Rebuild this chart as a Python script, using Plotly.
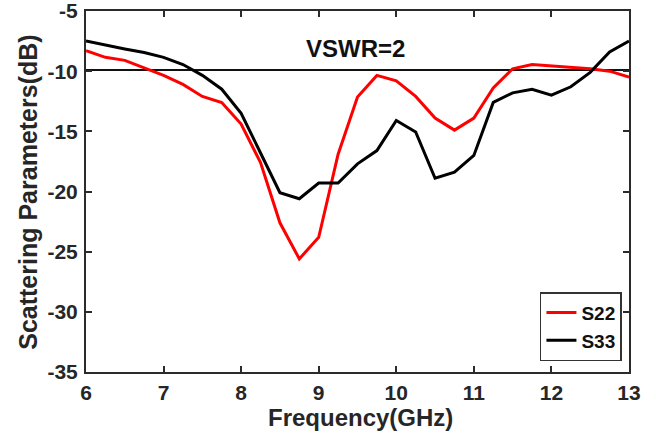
import plotly.graph_objects as go

freq = [6.0, 6.25, 6.5, 6.75, 7.0, 7.25, 7.5, 7.75, 8.0, 8.25, 8.5, 8.75, 9.0, 9.25,
        9.5, 9.75, 10.0, 10.25, 10.5, 10.75, 11.0, 11.25, 11.5, 11.75, 12.0, 12.25,
        12.5, 12.75, 13.0]
s22 = [-8.3, -8.85, -9.1, -9.7, -10.35, -11.1, -12.1, -12.6, -14.4, -17.6, -22.6, -25.6,
       -23.8, -16.9, -12.15, -10.35, -10.8, -12.1, -13.9, -14.9, -13.9, -11.4, -9.8,
       -9.45, -9.55, -9.7, -9.8, -10.0, -10.5]
s33 = [-7.5, -7.85, -8.15, -8.45, -8.85, -9.45, -10.35, -11.5, -13.5, -16.8, -20.1, -20.6,
       -19.3, -19.3, -17.7, -16.6, -14.1, -15.05, -18.9, -18.4, -17.0, -12.6, -11.8,
       -11.5, -12.0, -11.3, -10.1, -8.4, -7.5]
vswr_level = -9.9
x_ticks = [6, 7, 8, 9, 10, 11, 12, 13]
y_ticks = [-35, -30, -25, -20, -15, -10, -5]
y_ticktext = ["-35", "-30", "-25", "-20", "-15", "-10", "-5"]

FONT = "Liberation Sans, Arial, sans-serif"
AXC = "#2b2b2b"
TXT = "#262626"

fig = go.Figure()
fig.add_trace(go.Scatter(x=[freq[0], freq[-1]], y=[vswr_level, vswr_level], mode="lines",
                         line=dict(color="#111111", width=2), showlegend=False, hoverinfo="skip"))
fig.add_trace(go.Scatter(x=freq, y=s22, mode="lines", name="S22",
                         line=dict(color="#ff0000", width=3)))
fig.add_trace(go.Scatter(x=freq, y=s33, mode="lines", name="S33",
                         line=dict(color="#000000", width=3)))

fig.add_annotation(x=9.48, y=-8.1, text="VSWR=2", showarrow=False,
                   font=dict(family=FONT, size=24, color="#111111", weight="bold"))
fig.add_annotation(x=0.506, y=-0.1247, xref="paper", yref="paper", text="Frequency(GHz)",
                   showarrow=False, yanchor="middle",
                   font=dict(family=FONT, size=24, color=TXT, weight="bold"))
fig.add_annotation(x=-0.107, y=0.499, xref="paper", yref="paper",
                   text="Scattering Parameters(dB)", textangle=-90, showarrow=False,
                   xanchor="center",
                   font=dict(family=FONT, size=25, color=TXT, weight="bold"))

axis_common = dict(showline=True, linecolor=AXC, linewidth=2, mirror="ticks",
                   ticks="inside", ticklen=6, tickwidth=1.5, tickcolor=AXC,
                   showgrid=False, zeroline=False, automargin=False,
                   ticklabeloverflow="allow",
                   tickfont=dict(family=FONT, size=21, color=TXT, weight="bold"))

fig.update_layout(
    width=656, height=443,
    margin=dict(l=86, r=27, t=11, b=71),
    paper_bgcolor="white", plot_bgcolor="white",
    xaxis=dict(range=[6, 13], tickvals=x_ticks, ticklabelstandoff=1, **axis_common),
    yaxis=dict(range=[-35, -5], tickvals=y_ticks, ticktext=y_ticktext,
               ticklabelstandoff=2, **axis_common),
    legend=dict(x=0.987, y=0.03, xanchor="right", yanchor="bottom",
                bgcolor="white", bordercolor="#333333", borderwidth=1.5,
                font=dict(family=FONT, size=19, color="#111111", weight="bold"),
                tracegroupgap=0, itemwidth=30),
)

fig.write_html("out.html")
